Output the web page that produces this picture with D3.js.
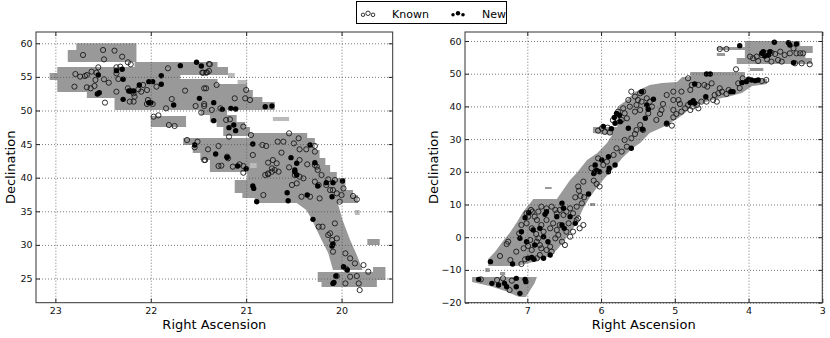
<!DOCTYPE html>
<html>
<head>
<meta charset="utf-8">
<style>
body { margin: 0; background: #fff; }
svg { font-family: "DejaVu Sans", sans-serif; }
</style>
<script src="https://cdn.jsdelivr.net/npm/d3@7"></script>
</head>
<body>
<script>
// ---- left field: survey footprint polygons [ra, dec]
var leftFootprint = [
  [[22.78,60.0],[22.15,60.0],[22.15,57.2],[22.87,57.2],[22.87,59.0],[22.78,59.0]],
  [[23.06,55.58],[22.98,55.58],[22.98,56.47],[22.17,56.47],[22.17,57.21],[21.30,57.21],[21.30,56.47],[21.19,56.47],[21.19,55.28],[21.69,55.28],[21.69,54.68],[21.30,54.68],[21.30,53.94],[20.99,53.94],[20.99,53.05],[20.93,53.05],[20.93,52.01],[20.83,52.01],[20.83,51.26],[20.70,51.26],[20.70,50.07],[21.20,50.07],[21.20,49.33],[21.10,49.33],[21.10,48.29],[21.01,48.29],[21.01,47.54],[20.96,47.54],[20.96,46.20],[21.24,46.20],[21.24,47.54],[21.31,47.54],[21.31,48.29],[21.38,48.29],[21.38,49.33],[21.48,49.33],[21.48,50.07],[22.38,50.07],[22.38,51.86],[22.67,51.86],[22.67,52.75],[22.98,52.75],[22.98,54.54],[23.06,54.54]],
  [[22.00,49.18],[21.63,49.18],[21.63,47.54],[22.00,47.54]],
  [[21.66,45.90],[20.96,45.90],[20.96,46.65],[20.36,46.65],[20.36,45.90],[20.28,45.90],[20.28,44.12],[20.23,44.12],[20.23,42.93],[20.17,42.93],[20.17,41.89],[20.12,41.89],[20.12,40.85],[20.05,40.85],[20.05,39.95],[19.96,39.95],[19.96,38.17],[19.88,38.17],[19.88,37.42],[19.83,37.42],[19.83,36.23],[20.04,36.23],[19.99,33.70],[19.91,30.73],[19.84,28.49],[19.78,26.26],[20.09,26.26],[20.14,28.79],[20.21,30.73],[20.27,32.51],[20.32,34.00],[20.37,35.19],[20.47,36.23],[20.91,36.23],[20.91,36.98],[21.04,36.98],[21.04,37.72],[21.12,37.72],[21.12,39.65],[20.99,39.65],[20.99,40.85],[21.38,40.85],[21.38,42.63],[21.48,42.63],[21.48,43.67],[21.56,43.67],[21.56,44.86],[21.66,44.86]],
  [[20.25,25.96],[19.67,25.96],[19.67,26.71],[19.54,26.71],[19.54,24.77],[19.63,24.77],[19.63,23.73],[20.21,23.73],[20.21,24.48],[20.25,24.48]],
  [[19.73,30.88],[19.60,30.88],[19.60,29.98],[19.73,29.98]]
];
// faint fragments [ra1, ra2, dec1, dec2]
var leftFaint = [
  [21.19,21.12,55.58,54.83],[21.09,20.99,54.54,53.94],[20.72,20.55,49.03,48.43],
  [19.86,19.81,35.19,34.45],[20.96,20.89,42.18,41.44]
];

// ---- left field: objects
var leftKnown = [
  [22.71,58.26],[22.50,59.00],[22.38,58.90],[22.49,57.61],[22.30,58.01],[22.24,57.17],[22.21,56.87],[22.79,55.43],[22.74,55.04],[22.69,55.13],
  [22.67,55.28],[22.62,55.78],[22.57,55.63],[22.55,56.42],[22.58,54.54],[22.49,54.64],[22.44,54.14],[22.80,53.55],[22.67,53.45],[22.63,53.30],
  [22.59,53.65],[22.48,51.17],[22.36,52.80],[22.32,56.52],[22.36,56.42],[22.36,55.53],[22.34,54.69],[22.24,53.30],[22.22,51.32],[22.18,51.32],
  [22.17,52.06],[22.18,52.56],[22.13,53.15],[22.10,52.80],[22.04,53.05],[22.08,53.80],[22.04,50.97],[22.03,51.56],[21.98,50.97],[21.94,53.55],
  [21.82,56.28],[21.78,51.71],[21.84,50.32],[21.97,49.08],[21.92,49.28],[21.81,47.84],[21.75,47.69],[21.64,52.95],[21.53,50.67],[21.47,49.68],
  [21.44,50.67],[21.42,53.30],[21.39,56.92],[21.46,55.63],[21.42,55.63],[21.62,45.61],[21.54,44.52],[21.51,45.36],[21.44,42.63],[21.40,44.22],
  [21.38,56.87],[21.45,55.63],[21.41,55.68],[21.39,55.88],[21.31,53.80],[21.44,53.30],[21.12,51.81],[21.00,53.05],[21.01,51.81],[20.96,51.56],
  [21.44,50.97],[21.36,50.08],[21.27,50.32],[21.21,48.59],[21.17,48.69],[21.18,46.11],[21.03,47.60],[20.95,46.35],[20.83,44.87],[20.79,44.72],
  [20.67,45.36],[20.61,45.36],[20.55,46.60],[20.45,45.86],[20.50,45.11],[20.44,44.22],[20.37,44.22],[20.28,44.72],[20.28,43.88],[21.29,44.72],
  [21.43,42.63],[21.29,41.74],[21.26,41.79],[21.20,43.13],[21.19,42.88],[21.14,41.64],[21.07,41.99],[21.03,41.74],[20.93,43.38],[20.77,42.24],
  [20.73,41.39],[20.68,42.14],[20.72,42.63],[20.66,40.90],[20.63,43.73],[20.55,41.54],[20.44,42.63],[20.36,41.99],[20.28,41.89],[20.26,41.64],
  [20.25,41.15],[20.77,40.50],[21.03,40.74],[20.80,40.40],[20.77,40.64],[20.73,40.89],[20.70,41.14],[20.49,40.40],[20.44,40.15],[20.40,39.90],
  [20.28,39.40],[20.24,38.91],[20.21,40.40],[20.14,39.75],[20.07,39.65],[20.16,38.91],[20.12,38.16],[20.09,38.16],[20.05,37.67],[20.00,37.42],
  [19.98,38.41],[19.88,37.27],[19.84,36.77],[20.82,37.42],[20.52,38.91],[20.47,39.16],[20.42,37.17],[20.33,37.17],[20.23,36.92],[20.02,36.43],
  [20.24,32.71],[20.20,32.71],[20.07,33.20],[20.12,31.72],[20.14,31.47],[20.05,30.97],[20.10,30.72],[20.09,28.99],[19.96,28.74],[19.91,28.00],
  [19.95,26.41],[19.86,27.25],[19.77,27.00],[19.72,26.01],[20.05,25.37],[19.91,25.27],[19.84,25.37],[19.96,24.27],[19.82,24.27],[19.81,23.28]
];
var leftNew = [
  [21.69,56.67],[21.89,55.18],[21.98,54.29],[22.36,55.93],[22.30,56.13],[22.29,54.64],[22.55,55.28],[22.54,52.65],[22.56,52.46],[22.29,51.66],
  [22.23,52.90],[22.21,52.90],[22.18,52.90],[22.12,53.80],[22.02,54.29],[22.02,51.17],[22.00,51.17],[21.89,53.90],[21.76,50.82],[21.52,57.17],
  [21.47,56.62],[21.49,51.81],[21.54,44.87],[21.34,51.17],[21.25,50.17],[21.16,50.32],[21.11,50.22],[20.80,50.57],[20.73,50.67],[21.34,48.49],
  [21.18,47.45],[21.11,47.00],[21.13,47.84],[20.93,45.02],[20.33,44.87],[21.32,43.53],[21.20,43.03],[21.09,41.74],[21.00,41.35],[20.53,42.98],
  [20.47,42.14],[20.28,42.24],[20.49,40.90],[20.49,41.14],[20.47,40.40],[20.93,38.76],[20.92,38.41],[20.57,37.77],[20.56,36.58],[20.89,36.43],
  [20.36,37.42],[20.25,38.76],[20.16,39.26],[20.09,39.26],[19.99,39.50],[20.10,37.17],[20.30,33.80],[20.09,30.13],[20.10,29.83],[19.98,26.76],
  [19.94,26.26],[20.06,25.37],[20.09,24.27],[20.08,24.42]
];

// ---- right field: survey footprint polygons [ra, dec]
var rightFootprint = [
  [[7.53,-8.81],[7.53,-6.66],[7.44,-4.52],[7.34,-1.47],[7.23,1.59],[7.14,4.65],[7.06,7.71],[6.96,10.46],[6.92,11.68],[6.60,11.68],[6.42,17.50],[6.33,19.64],[6.19,23.61],[6.05,25.75],[5.92,28.81],[5.85,31.26],[6.11,31.87],[6.11,33.70],[5.78,33.70],[5.78,39.82],[5.65,41.96],[5.54,44.41],[5.34,46.55],[5.17,47.16],[4.97,47.46],[4.90,49.01],[4.05,49.01],[4.05,48.38],[3.75,48.38],[3.75,46.85],[3.95,46.24],[4.09,44.10],[4.29,42.88],[4.50,41.96],[4.66,40.74],[4.79,39.51],[4.88,37.68],[4.97,36.15],[5.16,33.70],[5.34,31.87],[5.47,28.81],[5.57,27.28],[5.70,24.53],[5.85,20.55],[6.01,16.58],[6.15,12.30],[6.24,8.93],[6.33,4.34],[6.46,0.06],[6.60,-3.91],[6.73,-6.05],[6.92,-7.58],[7.14,-8.81]],
  [[7.75,-12.17],[6.87,-12.17],[6.90,-14.00],[6.96,-16.14],[7.02,-18.29],[7.11,-18.29],[7.30,-16.45],[7.51,-14.92],[7.75,-13.70]],
  [[4.05,60.0],[3.30,60.0],[3.30,58.47],[3.13,58.47],[3.13,56.33],[3.23,56.33],[3.23,54.80],[3.14,54.80],[3.14,52.97],[4.16,52.97],[4.16,54.80],[4.05,54.80]],
  [[4.43,58.17],[4.02,58.17],[4.02,57.25],[4.43,57.25]],
  [[4.43,56.33],[4.32,56.33],[4.32,55.41],[4.43,55.41]],
  [[3.98,51.75],[3.80,51.75],[3.80,50.83],[3.98,50.83]],
  [[4.79,50.52],[4.05,50.52],[4.05,49.01],[4.79,49.01]],
  [[6.76,15.35],[6.67,15.35],[6.67,14.74],[6.76,14.74]],
  [[6.15,10.46],[6.08,10.46],[6.08,9.54],[6.15,9.54]],
  [[7.57,-9.42],[7.51,-9.42],[7.51,-10.64],[7.57,-10.64]],
  [[7.37,-10.64],[7.30,-10.64],[7.30,-11.56],[7.37,-11.56]]
];
var rightFaint = [];

// ---- right field: objects
var rightKnown = [
  [4.39,57.56],[4.30,57.56],[4.17,51.34],[3.98,55.22],[3.94,54.71],[3.89,55.22],[3.87,53.89],[3.82,55.72],[3.75,56.23],[3.69,56.44],
  [3.64,56.03],[3.57,56.74],[3.51,55.72],[3.44,56.23],[3.39,57.76],[3.35,56.23],[3.30,56.23],[3.26,56.23],[3.37,53.18],[3.28,53.18],
  [3.17,52.87],[3.60,54.20],[3.55,53.69],[3.69,53.69],[3.75,54.40],
  [4.82,48.59],[4.77,46.55],[4.79,45.02],[4.68,46.55],[4.60,46.55],[4.56,46.04],[4.50,47.06],[4.39,45.53],[4.41,44.00],[4.46,43.49],
  [4.48,41.96],[4.43,41.45],[4.36,44.51],[4.27,45.02],[4.30,43.80],[4.14,47.06],[4.08,48.59],[3.82,47.77],[3.76,48.08],[4.12,45.60],
  [4.57,41.45],[4.64,41.45],[4.70,40.43],[4.76,39.92],[4.82,40.43],[4.86,39.41],[4.91,38.39],[4.79,38.90],[4.68,39.41],[4.95,41.96],
  [4.93,40.74],[4.91,44.51],[5.02,41.96],[5.02,44.51],[5.11,43.49],[5.02,38.90],[5.16,40.74],[5.18,38.90],[5.20,37.68],[4.98,37.68],
  [5.02,36.66],[5.11,34.62],[5.04,34.11],
  [5.59,44.51],[5.54,43.00],[5.47,44.00],[5.43,44.51],[5.50,41.96],[5.45,41.45],[5.38,42.47],[5.34,41.45],[5.31,39.92],[5.47,38.90],
  [5.52,40.43],[5.54,38.39],[5.61,39.92],[5.63,41.96],[5.70,39.41],[5.68,37.88],[5.77,38.39],[5.79,36.36],[5.72,35.85],[5.65,36.36],
  [5.47,34.32],[5.36,37.88],[5.25,35.85],[5.43,32.79],[5.52,32.79],[5.54,31.57],[5.59,30.24],[5.68,29.73],[5.79,27.18],[5.65,27.69],
  [5.83,25.14],[5.72,26.16],
  [6.04,32.6],[5.99,33.3],[5.95,32.2],[5.91,33.5],[5.88,32.0],[5.84,35.8],
  [5.92,23.1],[5.97,22.1],[6.04,24.1],[6.13,21.1],[6.08,20.0],
  [6.24,17.0],[6.10,17.3],[6.06,16.3],[6.02,15.5],[6.31,15.5],[6.30,14.2],[6.28,12.6],[6.35,12.2],[6.23,12.2],
  [7.37,-5.75],[7.28,-2.08],[7.26,-1.37],[7.11,1.18],[7.08,3.73],[7.01,4.24],[6.99,6.28],[7.01,7.30],[6.95,8.32],[6.93,7.81],
  [6.90,6.28],[6.87,5.26],[6.94,2.71],[6.88,0.98],[6.85,-0.35],[6.87,-1.37],[6.78,1.69],[6.81,3.73],[6.74,5.26],[6.74,8.83],
  [6.67,9.34],[6.62,8.32],[6.60,7.30],[6.56,8.32],[6.51,6.79],[6.47,7.81],[6.42,8.83],[6.38,7.30],[6.33,5.26],[6.31,5.77],
  [6.44,4.24],[6.47,1.69],[6.60,2.20],[6.58,0.67],[6.62,-0.35],[6.69,-2.90],[6.67,-4.42],[6.74,-3.91],[6.81,-3.40],[6.83,-5.44],
  [6.87,-6.46],[7.03,-6.77],[7.08,-8.20],[7.23,-6.97],[7.15,-4.42],[7.05,-3.40],[6.99,-2.69],[6.96,-0.86],[6.53,-1.37],[6.49,-2.39],
  [6.42,0.16],[6.38,1.69],[6.29,2.71],[6.24,3.73],[6.33,9.34],[6.26,10.36],[6.81,9.34],[6.85,7.81],[6.65,4.24],[6.69,2.71],
  [6.56,3.73],[6.83,-2.39],[6.94,-3.91],
  [7.63,-12.89],[7.41,-13.09],[7.33,-12.58],[7.24,-16.15],[7.21,-13.29]
];
var rightNew = [
  [4.12,58.58],[3.65,59.60],[3.44,58.78],[3.46,59.50],[3.35,59.09],[3.82,56.23],[3.80,56.74],[3.78,55.42],[3.73,55.72],[3.71,56.74],
  [3.39,53.38],
  [4.57,49.91],[4.52,49.91],[4.73,46.86],[4.00,48.28],[3.96,48.08],[3.91,47.88],[3.87,48.08],[4.03,47.57],[4.09,47.26],[4.21,44.51],
  [4.24,44.51],[4.75,41.76],[4.73,40.94],[4.58,42.98],[4.79,41.15],
  [5.45,44.51],[5.29,42.17],[5.38,40.43],[5.36,39.11],[5.79,37.88],[5.75,37.27],[5.74,35.34],[5.40,36.36],[5.44,33.00],[5.63,33.30],
  [5.81,34.83],[5.59,27.18],[5.81,22.09],[5.11,34.83],
  [5.97,33.9],[5.82,36.6],[5.86,33.2],
  [5.99,23.6],[6.08,22.1],[6.06,20.5],[6.02,20.0],[6.10,19.5],[5.90,24.6],[5.89,21.1],[5.90,20.0],[6.17,13.2],
  [7.50,-7.48],[7.20,-8.20],[6.99,-6.46],[6.94,-6.16],[6.91,-6.77],[7.08,1.69],[7.03,5.97],[6.98,7.50],[6.92,2.20],[6.83,2.71],
  [6.76,6.99],[6.74,7.81],[6.51,8.83],[6.42,6.28],[6.53,3.73],[6.50,2.71],[6.35,4.24],[6.78,0.16],[6.72,-1.37],[6.69,-5.44],
  [6.78,-6.46],[6.90,-2.39],[7.01,-1.37],[7.10,-0.35],[6.60,6.28],[6.53,10.36],
  [7.66,-12.89],[7.48,-14.11],[7.39,-14.62],[7.28,-15.13],[7.15,-12.58],[7.15,-15.13],[7.03,-12.89],[7.02,-13.60],[7.10,-17.17],[7.31,-14.11]
];

// tick values
var leftRaTicks = [23, 22, 21, 20];
var leftDecTicks = [25, 30, 35, 40, 45, 50, 55, 60];
var rightRaTicks = [7, 6, 5, 4, 3];
var rightDecTicks = [-20, -10, 0, 10, 20, 30, 40, 50, 60];

var svg = d3.select("body").append("svg")
    .attr("width", 830)
    .attr("height", 338);

function fmt(d) { return d < 0 ? "\u2212" + Math.abs(d) : String(d); }

function drawPanel(p) {
  var g = svg.append("g")
      .attr("transform", "translate(" + p.left + "," + p.top + ")");

  // set the ranges
  var x = d3.scaleLinear().domain(p.xDomain).range([0, p.width]);
  var y = d3.scaleLinear().domain(p.yDomain).range([p.height, 0]);

  g.append("clipPath").attr("id", "clip-" + p.name)
    .append("rect").attr("width", p.width).attr("height", p.height);
  var plot = g.append("g").attr("clip-path", "url(#clip-" + p.name + ")");

  // footprint
  var outline = d3.line().x(function(d) { return x(d[0]); }).y(function(d) { return y(d[1]); });
  plot.selectAll(".fp").data(p.footprint).enter().append("path")
      .attr("class", "fp")
      .attr("d", function(d) { return outline(d) + "Z"; })
      .attr("fill", "#999");

  plot.selectAll(".faint").data(p.faint).enter().append("rect")
      .attr("x", function(d) { return x(d[0]); })
      .attr("y", function(d) { return y(d[2]); })
      .attr("width", function(d) { return x(d[1]) - x(d[0]); })
      .attr("height", function(d) { return y(d[3]) - y(d[2]); })
      .attr("fill", "#bbb");

  // known objects (open) and new ones (filled)
  plot.selectAll(".known").data(p.known).enter().append("circle")
      .attr("cx", function(d) { return x(d[0]); })
      .attr("cy", function(d) { return y(d[1]); })
      .attr("r", 2.6)
      .attr("fill", "none")
      .attr("stroke", "#1a1a1a")
      .attr("stroke-width", 0.9);
  plot.selectAll(".new").data(p.fresh).enter().append("circle")
      .attr("cx", function(d) { return x(d[0]); })
      .attr("cy", function(d) { return y(d[1]); })
      .attr("r", 2.7)
      .attr("fill", "#000");

  // grid
  var gx = g.append("g").attr("transform", "translate(0," + p.height + ")")
      .call(d3.axisBottom(x).tickValues(p.xTicks).tickSize(-p.height).tickFormat(""));
  var gy = g.append("g")
      .call(d3.axisLeft(y).tickValues(p.yTicks).tickSize(-p.width).tickFormat(""));
  [gx, gy].forEach(function(a) {
    a.select(".domain").remove();
    a.selectAll("line").attr("stroke", "#555").attr("stroke-width", 0.8).attr("stroke-dasharray", "1,2");
  });

  // axes with inward ticks
  var ax = g.append("g").attr("transform", "translate(0," + p.height + ")")
      .call(d3.axisBottom(x).tickValues(p.xTicks).tickSize(-4).tickPadding(4.5).tickFormat(fmt));
  var ay = g.append("g")
      .call(d3.axisLeft(y).tickValues(p.yTicks).tickSize(-4).tickPadding(3.5).tickFormat(fmt));
  var at = g.append("g")
      .call(d3.axisTop(x).tickValues(p.xTicks).tickSize(-4).tickFormat(""));
  var ar = g.append("g").attr("transform", "translate(" + p.width + ",0)")
      .call(d3.axisRight(y).tickValues(p.yTicks).tickSize(-4).tickFormat(""));
  [ax, ay, at, ar].forEach(function(a) {
    a.select(".domain").remove();
    a.selectAll("line").attr("stroke", "#222");
    a.selectAll("text").attr("fill", "#111")
      .style("font-family", "DejaVu Sans").style("font-size", "9.5px");
  });

  g.append("rect")
      .attr("width", p.width).attr("height", p.height)
      .attr("fill", "none").attr("stroke", "#333").attr("stroke-width", 1);

  g.append("text")
      .attr("x", p.width / 2).attr("y", 297)
      .attr("text-anchor", "middle")
      .style("font-size", "13px")
      .text("Right Ascension");

  g.append("text")
      .attr("transform", "translate(" + p.ylabelX + "," + (p.height / 2) + ") rotate(-90)")
      .attr("text-anchor", "middle")
      .style("font-size", "13px")
      .text("Declination");
}

drawPanel({
  name: "left", left: 36, top: 32, width: 356.7, height: 270.7,
  xDomain: [23.203, 19.464], yDomain: [21.4, 61.68],
  xTicks: leftRaTicks, yTicks: leftDecTicks,
  footprint: leftFootprint, faint: leftFaint,
  known: leftKnown, fresh: leftNew, ylabelX: -21
});

drawPanel({
  name: "right", left: 465, top: 32, width: 357.3, height: 270.7,
  xDomain: [7.845, 3.0], yDomain: [-20.03, 62.75],
  xTicks: rightRaTicks, yTicks: rightDecTicks,
  footprint: rightFootprint, faint: rightFaint,
  known: rightKnown, fresh: rightNew, ylabelX: -27
});

// legend
var legend = svg.append("g");
legend.append("rect")
    .attr("x", 356.5).attr("y", 1.5).attr("width", 150).attr("height", 22)
    .attr("fill", "#fff").attr("stroke", "#000").attr("stroke-width", 1);

var legendItems = [
  {label: "Known", x: 363, open: true},
  {label: "New", x: 453, open: false}
];
var markerShift = [[0, 14.8, 1.7], [5, 13.3, 2.2], [10, 14.8, 1.8]];

legendItems.forEach(function(it) {
  markerShift.forEach(function(m) {
    legend.append("circle")
        .attr("cx", it.x + m[0]).attr("cy", m[1]).attr("r", m[2])
        .attr("fill", it.open ? "none" : "#000")
        .attr("stroke", "#000").attr("stroke-width", it.open ? 0.8 : 0);
  });
  legend.append("text")
      .attr("x", it.x + 29).attr("y", 18.3)
      .style("font-size", "11px")
      .text(it.label);
});
</script>
</body>
</html>
